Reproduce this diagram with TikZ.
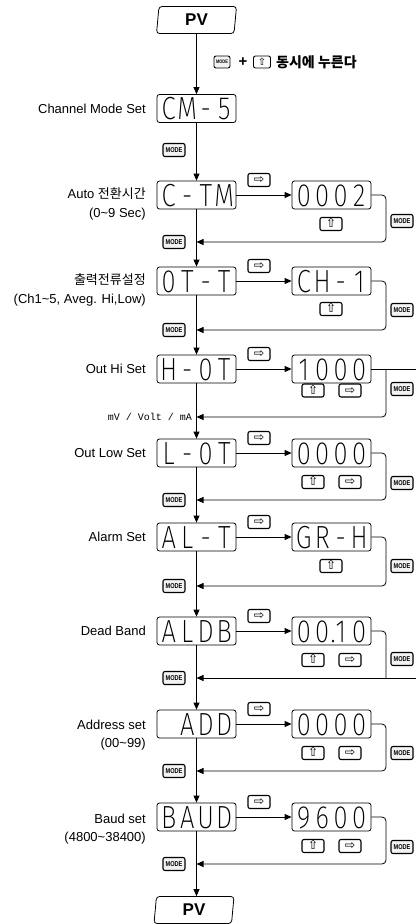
\documentclass[tikz,border=0pt]{standalone}
\usepackage{fontspec}
\setmainfont{Liberation Sans}
\newfontfamily\kr{Noto Sans CJK KR}
\newfontfamily\sym{DejaVu Sans}
\newfontfamily\lcd[FakeStretch=0.8]{Fira Sans ExtraLight}
\newfontfamily\mono{Liberation Mono}
\newfontfamily\keyf[FakeStretch=0.8]{Liberation Sans}
\usetikzlibrary{arrows.meta,shapes.geometric}
\newcommand\slotc[1]{\makebox[18.5pt]{#1}}
\newcommand\disp[4]{\slotc{#1}\slotc{#2}\slotc{#3}\slotc{#4}}
\begin{document}
\begin{tikzpicture}[x=1pt,y=-1pt,
  lcdbox/.style={draw, line width=0.8pt, rounded corners=2.5pt, minimum width=79pt, minimum height=28pt, inner sep=0pt, font=\lcd\fontsize{32}{32}\selectfont, text height=22pt, text depth=0pt},
  keybox/.style={draw, line width=1.1pt, rounded corners=2pt, minimum width=22pt, minimum height=13pt, inner sep=0pt, fill=white},
  rkey/.style={keybox, font=\sym\fontsize{12.5}{12.5}\selectfont, text height=7pt, text depth=0pt},
  modekey/.style={keybox, fill=gray!10, font=\keyf\bfseries\fontsize{7}{7}\selectfont},
  pvbox/.style={trapezium, trapezium left angle=78, trapezium right angle=102, trapezium stretches body, draw, line width=0.8pt, rounded corners=3pt, minimum width=80pt, minimum height=27pt, inner sep=0pt, font=\bfseries\fontsize{17}{17}\selectfont},
  lbl/.style={anchor=east, inner sep=0pt, font=\fontsize{13}{18.5}\selectfont, align=right},
  arr/.style={-{Triangle[length=7pt,width=6pt]}, line width=0.8pt},
  ret/.style={arr, rounded corners=4pt},
  plain/.style={line width=0.8pt, rounded corners=4pt}
]
\useasboundingbox (0,0) rectangle (416,924);

% start / end
\node[pvbox] (pv1) at (196.5,20) {PV};
\node[pvbox] (pv2) at (194,910) {PV};

% annotation
\node[modekey, minimum width=16pt, minimum height=12pt, font=\keyf\bfseries\fontsize{5}{5}\selectfont, line width=0.9pt] (amode) at (222,62) {MODE};
\node[inner sep=0pt, font=\bfseries\fontsize{15}{15}\selectfont] (aplus) at (243,62) {+};
\node[rkey, minimum width=17pt, minimum height=12pt, font=\sym\fontsize{10}{10}\selectfont, line width=0.9pt] (aup) at (262,62) {⇧};
\node[anchor=west, inner sep=0pt, font=\kr\bfseries\fontsize{14}{14}\selectfont] (atext) at (276,62) {동시에 누른다};

% main display boxes
\node[lcdbox] (b1) at (196.5,108.5) {\disp{C}{M}{-}{5}};
\node[lcdbox] (b2) at (196.5,195) {\disp{C}{-}{T}{M}};
\node[lcdbox] (b3) at (196.5,281) {\disp{0}{T}{-}{T}};
\node[lcdbox] (b4) at (196.5,369) {\disp{H}{-}{0}{T}};
\node[lcdbox] (b5) at (196.5,453) {\disp{L}{-}{0}{T}};
\node[lcdbox] (b6) at (196.5,537) {\disp{A}{L}{-}{T}};
\node[lcdbox] (b7) at (196.5,631) {\disp{A}{L}{D}{B}};
\node[lcdbox] (b8) at (196.5,724) {\disp{}{A}{D}{D}};
\node[lcdbox] (b9) at (196.5,817) {\disp{B}{A}{U}{D}};

% value boxes
\node[lcdbox] (r2) at (331.5,195) {\disp{0}{0}{0}{2}};
\node[lcdbox] (r3) at (331.5,281) {\disp{C}{H}{-}{1}};
\node[lcdbox] (r4) at (331.5,369) {\disp{1}{0}{0}{0}};
\node[lcdbox] (r5) at (331.5,453) {\disp{0}{0}{0}{0}};
\node[lcdbox] (r6) at (331.5,537) {\disp{G}{R}{-}{H}};
\node[lcdbox] (r7) at (331.5,631) {\disp{0}{0}{\llap{.}1}{0}};
\node[lcdbox] (r8) at (331.5,724) {\disp{0}{0}{0}{0}};
\node[lcdbox] (r9) at (331.5,817) {\disp{9}{6}{0}{0}};

% labels
\node[lbl] (l1) at (146,108.5) {Channel Mode Set};
\node[lbl] (l2) at (146,204) {Auto {\kr 전환시간}\\(0\textasciitilde 9 Sec)};
\node[lbl] (l3) at (146,290) {{\kr 출력전류설정}\\(Ch1\textasciitilde 5, Aveg. Hi,Low)};
\node[lbl] (l4) at (146,369) {Out Hi Set};
\node[lbl] (l5) at (146,453) {Out Low Set};
\node[lbl] (l6) at (146,537) {Alarm Set};
\node[lbl] (l7) at (146,631) {Dead Band};
\node[lbl] (l8) at (146,735) {Address set\\(00\textasciitilde 99)};
\node[lbl] (l9) at (146,829) {Baud set\\(4800\textasciitilde 38400)};
\node[anchor=east, inner sep=0pt, font=\mono\fontsize{10}{10}\selectfont] (unit) at (192,417) {mV / Volt / mA};

% right-arrow keys above transitions
\foreach \i/\y in {2/195,3/281,4/369,5/453,6/537,7/631,8/724,9/817}{
  \node[rkey] (k\i) at (259,\y-15) {⇨};
}
% keys under values
\node[rkey] (u2) at (331,224) {⇧};
\node[rkey] (u3) at (331,309) {⇧};
\node[rkey] (u4) at (313,390.5) {⇧};
\node[rkey] (s4) at (350,390.5) {⇨};
\node[rkey] (u5) at (313,482) {⇧};
\node[rkey] (s5) at (350,482) {⇨};
\node[rkey] (u6) at (331,566) {⇧};
\node[rkey] (u7) at (313,660) {⇧};
\node[rkey] (s7) at (350,660) {⇨};
\node[rkey] (u8) at (313,753) {⇧};
\node[rkey] (s8) at (350,753) {⇨};
\node[rkey] (u9) at (313,846) {⇧};
\node[rkey] (s9) at (350,846) {⇨};

% right MODE keys
\foreach \i/\y in {2/221,3/310,4/389,5/483,6/566,7/659,8/753,9/847}{
  \node[modekey] (mr\i) at (402,\y) {MODE};
}
% left MODE keys
\foreach \i/\y in {1/150,2/242,3/330,5/500,6/586,7/678,8/771,9/864}{
  \node[modekey] (ml\i) at (174,\y) {MODE};
}

% main vertical flow
\draw[arr] (pv1) -- (b1);
\draw[arr] (b1) -- (b2);
\draw[arr] (b2) -- (b3);
\draw[arr] (b3) -- (b4);
\draw[arr] (b4) -- (b5);
\draw[arr] (b5) -- (b6);
\draw[arr] (b6) -- (b7);
\draw[arr] (b7) -- (b8);
\draw[arr] (b8) -- (b9);
\draw[arr] (b9) -- (pv2.north -| b9);

% horizontal transitions
\foreach \i in {2,...,9}{
  \draw[arr] (b\i) -- (r\i);
}

% return coordinates
\foreach \i/\y in {2/242,3/330,4/417,5/500,6/586,7/678,8/771,9/864}{
  \coordinate (rt\i) at (386,\y);
  \coordinate (j\i) at (196.5,\y);
}
\coordinate (top4) at (386,369);
\coordinate (edge4) at (416,369);
\coordinate (edge7) at (416,678);

% return paths
\foreach \i in {2,3,5,6,8,9}{
  \draw[ret] (r\i.east) -| (rt\i) -- (j\i);
}
\draw[plain] (r4.east) -- (edge4);
\draw[ret] (top4) -- (rt4) -- (j4);
\draw[plain] (r7.east) -| (rt7);
\draw[arr] (edge7) -- (j7);
\end{tikzpicture}
\end{document}
